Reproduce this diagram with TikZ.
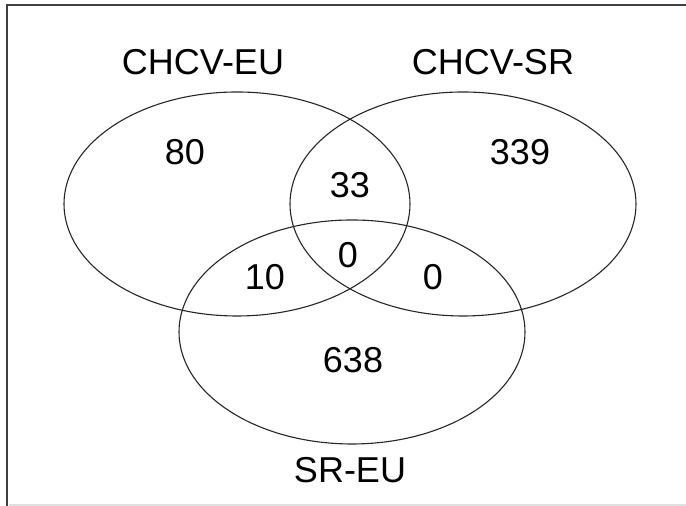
\documentclass[tikz,border=0pt]{standalone}
\usepackage{fontspec}
\setmainfont{Liberation Sans}
\begin{document}
\begin{tikzpicture}[x=0.5pt, y=0.5pt]
    \tikzstyle{set}=[draw=black!85, line width=0.55pt]
    \tikzstyle{tag}=[inner sep=0pt, font=\fontsize{18}{22}\selectfont]
    \useasboundingbox (0,0) rectangle (686,506);
    % frame
    \draw[black!75, line width=1pt] (7,0) -- (7,501) -- (686,501);
    \draw[black!12, line width=0.6pt] (9,1) -- (686,1);

    \coordinate (S_1) at (237,302);
    \coordinate (S_2) at (463,302);
    \coordinate (S_3) at (352,174);
    \draw[set] (S_1) ellipse [x radius=86.5pt, y radius=56pt];
    \draw[set] (S_2) ellipse [x radius=86.5pt, y radius=56pt];
    \draw[set] (S_3) ellipse [x radius=86.5pt, y radius=56pt];

    \node[tag] (L_1) at (203,444) {CHCV-EU};
    \node[tag] (L_2) at (493,444) {CHCV-SR};
    \node[tag] (L_3) at (350,36)  {SR-EU};

    \node[tag] (N_1) at (185,354) {80};
    \node[tag] (N_2) at (350,321) {33};
    \node[tag] (N_3) at (520,354) {339};
    \node[tag] (N_4) at (348,251) {0};
    \node[tag] (N_5) at (265,229) {10};
    \node[tag] (N_6) at (433,229) {0};
    \node[tag] (N_7) at (353,146) {638};
\end{tikzpicture}
\end{document}
